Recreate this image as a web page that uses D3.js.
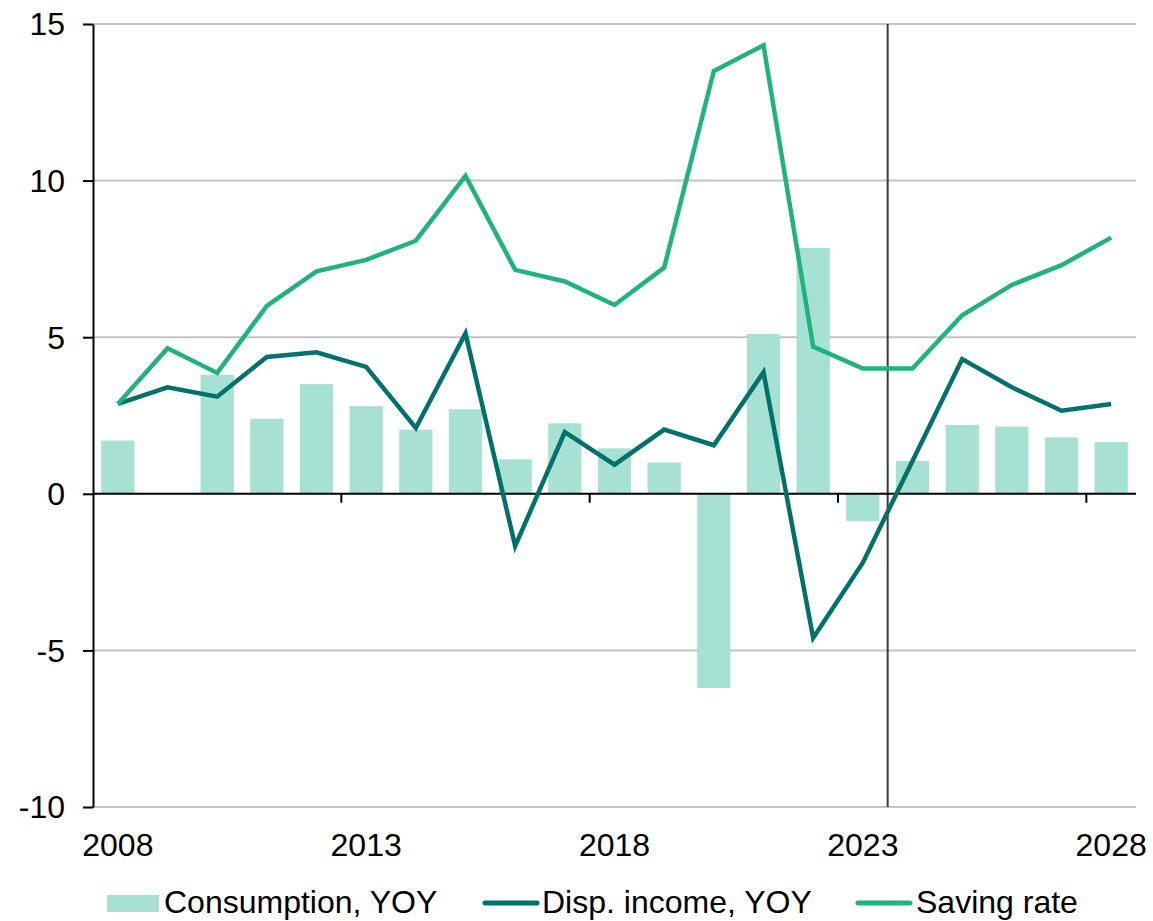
<!DOCTYPE html>
<html>
<head>
<meta charset="utf-8">
<script src="https://cdn.jsdelivr.net/npm/d3@7"></script>
<style>
  body { margin: 0; background: #fff; }
  svg text { font-family: Arial, "Liberation Sans", sans-serif; font-size: 32px; fill: #000; }
</style>
</head>
<body>
<div id="chart"></div>
<script>
const years = [2008, 2009, 2010, 2011, 2012, 2013, 2014, 2015, 2016, 2017, 2018,
  2019, 2020, 2021, 2022, 2023, 2024, 2025, 2026, 2027, 2028]
const consumption = [1.7, 0, 3.8, 2.4, 3.5, 2.8, 2.05, 2.7, 1.1, 2.25, 1.45,
  1.0, -6.2, 5.1, 7.85, -0.88, 1.05, 2.2, 2.15, 1.8, 1.65]
const dispIncome = [2.87, 3.4, 3.1, 4.37, 4.52, 4.05, 2.1, 5.12, -1.67, 1.97, 0.93,
  2.05, 1.55, 3.88, -4.6, -2.2, 1.05, 4.3, 3.4, 2.65, 2.87]
const savingRate = [2.87, 4.65, 3.86, 6.0, 7.1, 7.47, 8.08, 10.15, 7.15, 6.78, 6.03,
  7.22, 13.5, 14.32, 4.7, 4.0, 4.0, 5.7, 6.67, 7.3, 8.18]
const yTicks = [-10, -5, 0, 5, 10, 15]
const xLabelYears = [2008, 2013, 2018, 2023, 2028]
const xTickYears = [2013, 2018, 2023, 2028]
const forecastStart = 2024
const legendLabels = ['Consumption, YOY', 'Disp. income, YOY', 'Saving rate']

const colors = { bar: '#a6e1d3', disp: '#00716a', saving: '#22b27d' }

const width = 1153
const height = 921
const m = { left: 93, right: 1136, top: 24, bottom: 807 }

const svg = d3.select('#chart').append('svg')
  .attr('width', width).attr('height', height)

const x = d3.scaleBand().domain(years).range([m.left, m.right])
  .paddingInner(0.33).paddingOuter(0.165)
const y = d3.scaleLinear().domain([-10, 15]).range([m.bottom, m.top])
const cx = d => x(d) + x.bandwidth() / 2
// left edge of a year's band (between bars)
const bandStart = d => x(d) - x.step() * 0.165

// grid
svg.append('g').attr('class', 'grid')
  .selectAll('line')
  .data(yTicks.filter(t => t !== 0))
  .enter().append('line')
  .attr('x1', m.left).attr('x2', m.right)
  .attr('y1', d => y(d)).attr('y2', d => y(d))
  .attr('stroke', '#c4c4c4').attr('stroke-width', 2)

// bars
svg.append('g').attr('class', 'bars')
  .selectAll('rect')
  .data(years)
  .enter().append('rect')
  .attr('x', d => x(d))
  .attr('width', x.bandwidth())
  .attr('y', (d, i) => y(Math.max(0, consumption[i])))
  .attr('height', (d, i) => Math.abs(y(consumption[i]) - y(0)))
  .attr('fill', colors.bar)

// forecast divider
svg.append('line')
  .attr('x1', bandStart(forecastStart)).attr('x2', bandStart(forecastStart))
  .attr('y1', m.top).attr('y2', m.bottom)
  .attr('stroke', '#3a3a3a').attr('stroke-width', 2)

// x axis at zero
const zeroAxis = svg.append('g').attr('class', 'axis zero')
zeroAxis.append('line')
  .attr('x1', m.left).attr('x2', m.right)
  .attr('y1', y(0)).attr('y2', y(0))
  .attr('stroke', '#000').attr('stroke-width', 2)
zeroAxis.selectAll('.tick')
  .data(xTickYears)
  .enter().append('line')
  .attr('class', 'tick')
  .attr('x1', d => bandStart(d)).attr('x2', d => bandStart(d))
  .attr('y1', y(0)).attr('y2', y(0) + 9)
  .attr('stroke', '#000').attr('stroke-width', 2)

// year labels
const xAxis = d3.axisBottom(x).tickValues(xLabelYears).tickSize(0).tickPadding(26)
svg.append('g').attr('class', 'axis x')
  .attr('transform', 'translate(0,' + m.bottom + ')')
  .call(xAxis)
  .call(g => g.select('.domain').remove())
  .selectAll('text').attr('font-size', null).attr('font-family', null)

// y axis
const yAxis = d3.axisLeft(y).tickValues(yTicks).tickFormat(d => String(d))
  .tickSize(10).tickSizeOuter(0).tickPadding(18)
svg.append('g').attr('class', 'axis y')
  .attr('transform', 'translate(' + m.left + ',0)')
  .call(yAxis)
  .call(g => g.select('.domain').attr('stroke', '#000').attr('stroke-width', 2))
  .call(g => g.selectAll('.tick line').attr('stroke', '#000').attr('stroke-width', 2))
  .selectAll('text').attr('font-size', null).attr('font-family', null).attr('dy', '0.34em')

// lines
const line = d3.line().x(d => cx(d.year)).y(d => y(d.value))
const series = [
  { values: dispIncome, color: colors.disp },
  { values: savingRate, color: colors.saving }
]
svg.append('g').attr('class', 'lines')
  .selectAll('path')
  .data(series)
  .enter().append('path')
  .attr('d', s => line(years.map((yr, i) => ({ year: yr, value: s.values[i] }))))
  .attr('fill', 'none')
  .attr('stroke', s => s.color)
  .attr('stroke-width', 4.5)
  .attr('stroke-linejoin', 'miter')

// legend
const legend = svg.append('g').attr('class', 'legend')
legend.append('rect')
  .attr('x', 107).attr('y', 895).attr('width', 52).attr('height', 17)
  .attr('fill', colors.bar)
legend.append('text').attr('x', 164).attr('y', 913).text(legendLabels[0])

legend.append('line')
  .attr('x1', 485).attr('x2', 537).attr('y1', 903).attr('y2', 903)
  .attr('stroke', colors.disp).attr('stroke-width', 5).attr('stroke-linecap', 'round')
legend.append('text').attr('x', 542).attr('y', 913).text(legendLabels[1])

legend.append('line')
  .attr('x1', 858).attr('x2', 910).attr('y1', 903).attr('y2', 903)
  .attr('stroke', colors.saving).attr('stroke-width', 5).attr('stroke-linecap', 'round')
legend.append('text').attr('x', 916).attr('y', 913).text(legendLabels[2])
</script>
</body>
</html>
